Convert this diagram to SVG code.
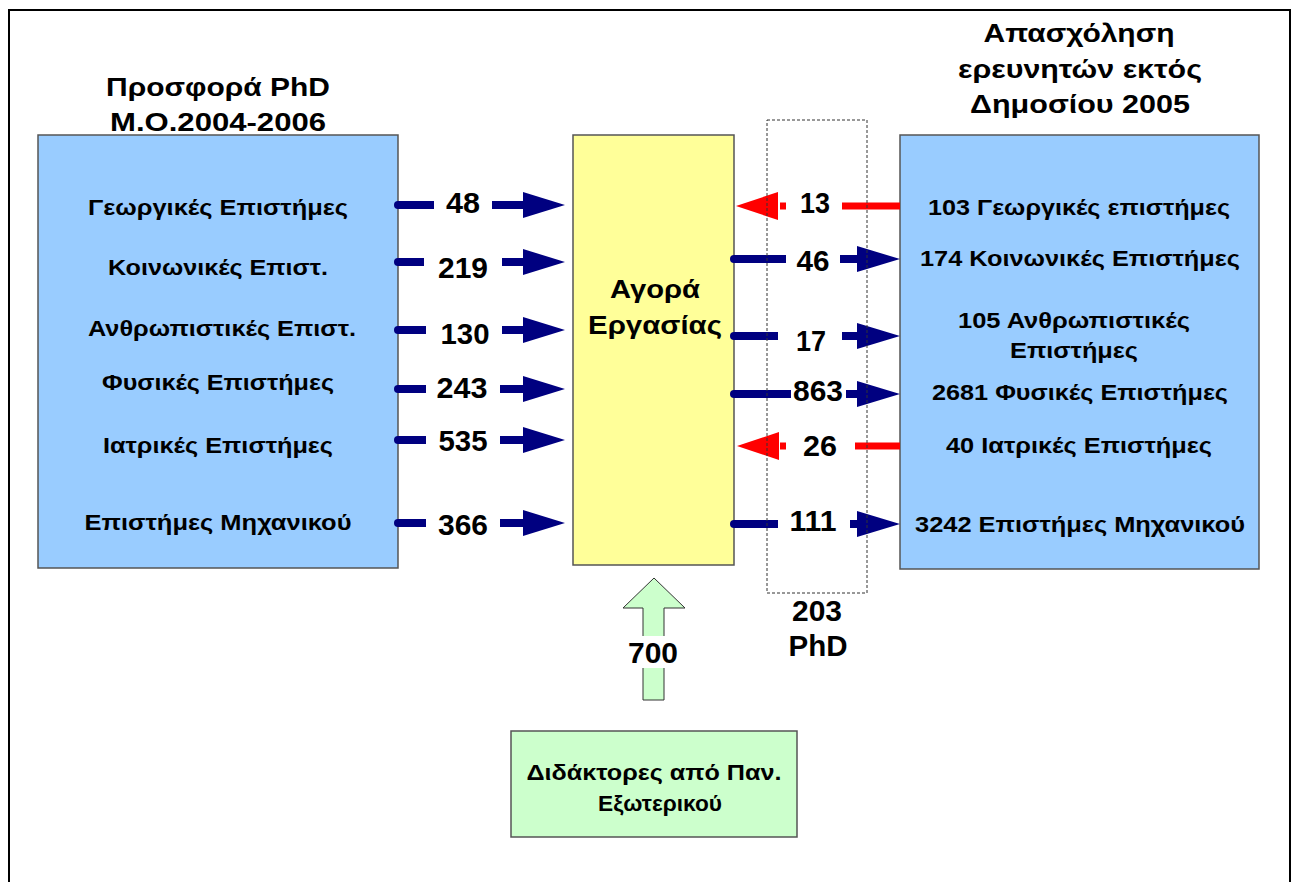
<svg xmlns="http://www.w3.org/2000/svg" width="1292" height="882" viewBox="0 0 1292 882">
<defs>
<style>
text{font-family:"Liberation Sans",Arial,sans-serif;font-weight:bold;fill:#000;text-anchor:middle}
.t{font-size:26px}
.it{font-size:22px}
.num{font-size:29px}
.box{stroke:#555;stroke-width:1.5}
.nav{stroke:#000080;stroke-width:8;stroke-linecap:round;fill:none}
.red{stroke:#FF0000;stroke-width:7;fill:none}
.hn{fill:#000080}
.hr{fill:#FF0000}
.lb{fill:#fff}
</style>
</defs>
<rect x="0" y="0" width="1292" height="882" fill="#fff"/>
<rect x="9" y="10" width="1281" height="890" fill="none" stroke="#000" stroke-width="2"/>

<g id="title-left">
<text class="t" x="218" y="96" textLength="224" lengthAdjust="spacingAndGlyphs">Προσφορά PhD</text>
<text class="t" x="218" y="131" textLength="216" lengthAdjust="spacingAndGlyphs">Μ.Ο.2004-2006</text>
</g>
<g id="title-right">
<text class="t" x="1079" y="42" textLength="191" lengthAdjust="spacingAndGlyphs">Απασχόληση</text>
<text class="t" x="1080" y="78" textLength="244" lengthAdjust="spacingAndGlyphs">ερευνητών εκτός</text>
<text class="t" x="1080" y="113" textLength="220" lengthAdjust="spacingAndGlyphs">Δημοσίου 2005</text>
</g>

<g id="supply">
<rect class="box" x="38" y="135" width="360" height="433" fill="#99CCFF"/>
<text class="it" x="218" y="215" textLength="260" lengthAdjust="spacingAndGlyphs">Γεωργικές Επιστήμες</text>
<text class="it" x="218" y="275" textLength="220" lengthAdjust="spacingAndGlyphs">Κοινωνικές Επιστ.</text>
<text class="it" x="222" y="336" textLength="268" lengthAdjust="spacingAndGlyphs">Ανθρωπιστικές Επιστ.</text>
<text class="it" x="218" y="390" textLength="232" lengthAdjust="spacingAndGlyphs">Φυσικές Επιστήμες</text>
<text class="it" x="218" y="453" textLength="230" lengthAdjust="spacingAndGlyphs">Ιατρικές Επιστήμες</text>
<text class="it" x="218" y="530" textLength="267" lengthAdjust="spacingAndGlyphs">Επιστήμες Μηχανικού</text>
</g>

<g id="market">
<rect class="box" x="573" y="135" width="161" height="430" fill="#FFFF99"/>
<text class="t" x="655" y="298" textLength="90" lengthAdjust="spacingAndGlyphs">Αγορά</text>
<text class="t" x="655" y="334" textLength="134" lengthAdjust="spacingAndGlyphs">Εργασίας</text>
</g>

<g id="employment">
<rect class="box" x="900" y="135" width="359" height="434" fill="#99CCFF"/>
<text class="it" x="1079" y="215" textLength="302" lengthAdjust="spacingAndGlyphs">103 Γεωργικές επιστήμες</text>
<text class="it" x="1080" y="266" textLength="320" lengthAdjust="spacingAndGlyphs">174 Κοινωνικές Επιστήμες</text>
<text class="it" x="1074" y="328" textLength="232" lengthAdjust="spacingAndGlyphs">105 Ανθρωπιστικές</text>
<text class="it" x="1074" y="358" textLength="128" lengthAdjust="spacingAndGlyphs">Επιστήμες</text>
<text class="it" x="1080" y="400" textLength="296" lengthAdjust="spacingAndGlyphs">2681 Φυσικές Επιστήμες</text>
<text class="it" x="1079" y="453" textLength="266" lengthAdjust="spacingAndGlyphs">40 Ιατρικές Επιστήμες</text>
<text class="it" x="1080" y="532" textLength="330" lengthAdjust="spacingAndGlyphs">3242 Επιστήμες Μηχανικού</text>
</g>

<g id="foreign">
<rect class="box" x="511" y="731" width="286" height="106" fill="#CCFFCC"/>
<text class="it" x="654" y="780" textLength="255" lengthAdjust="spacingAndGlyphs">Διδάκτορες από Παν.</text>
<text class="it" x="660" y="811" textLength="124" lengthAdjust="spacingAndGlyphs">Εξωτερικού</text>
</g>

<g id="connectors">
<g>
<line class="nav" x1="398" y1="205" x2="526" y2="205"/><polygon class="hn" points="523,192 565,205 523,218"/>
<rect class="lb" x="434" y="190" width="58" height="28"/><text class="num" x="463" y="213" textLength="34" lengthAdjust="spacingAndGlyphs">48</text>
</g>
<g>
<line class="nav" x1="398" y1="262" x2="526" y2="262"/><polygon class="hn" points="523,249 565,262 523,275"/>
<rect class="lb" x="424" y="248" width="78" height="32"/><text class="num" x="463" y="278" textLength="50" lengthAdjust="spacingAndGlyphs">219</text>
</g>
<g>
<line class="nav" x1="398" y1="330" x2="526" y2="330"/><polygon class="hn" points="523,317 565,330 523,343"/>
<rect class="lb" x="426" y="316" width="76" height="32"/><text class="num" x="465" y="344" textLength="49" lengthAdjust="spacingAndGlyphs">130</text>
</g>
<g>
<line class="nav" x1="398" y1="389" x2="526" y2="389"/><polygon class="hn" points="523,376 565,389 523,402"/>
<rect class="lb" x="426" y="374" width="74" height="30"/><text class="num" x="462" y="398" textLength="51" lengthAdjust="spacingAndGlyphs">243</text>
</g>
<g>
<line class="nav" x1="398" y1="440" x2="526" y2="440"/><polygon class="hn" points="523,427 565,440 523,453"/>
<rect class="lb" x="426" y="426" width="74" height="30"/><text class="num" x="463" y="451" textLength="49" lengthAdjust="spacingAndGlyphs">535</text>
</g>
<g>
<line class="nav" x1="398" y1="523" x2="526" y2="523"/><polygon class="hn" points="523,510 565,523 523,536"/>
<rect class="lb" x="426" y="509" width="74" height="32"/><text class="num" x="463" y="535" textLength="50" lengthAdjust="spacingAndGlyphs">366</text>
</g>
<g>
<line class="red" x1="780" y1="206" x2="900" y2="206"/><polygon class="hr" points="778,192 736,206 778,220"/>
<rect class="lb" x="786" y="190" width="56" height="30"/><text class="num" x="815" y="213" textLength="30" lengthAdjust="spacingAndGlyphs">13</text>
</g>
<g>
<line class="nav" x1="734" y1="259" x2="860" y2="259"/><polygon class="hn" points="857,246 900,259 857,272"/>
<rect class="lb" x="786" y="244" width="54" height="30"/><text class="num" x="813" y="271" textLength="33" lengthAdjust="spacingAndGlyphs">46</text>
</g>
<g>
<line class="nav" x1="734" y1="336" x2="860" y2="336"/><polygon class="hn" points="857,323 900,336 857,349"/>
<rect class="lb" x="778" y="322" width="64" height="32"/><text class="num" x="811" y="351" textLength="30" lengthAdjust="spacingAndGlyphs">17</text>
</g>
<g>
<line class="nav" x1="734" y1="394" x2="860" y2="394"/><polygon class="hn" points="857,381 900,394 857,407"/>
<rect class="lb" x="791" y="380" width="55" height="28"/><text class="num" x="818" y="401" textLength="50" lengthAdjust="spacingAndGlyphs">863</text>
</g>
<g>
<line class="red" x1="780" y1="446" x2="900" y2="446"/><polygon class="hr" points="779,432 737,446 779,460"/>
<rect class="lb" x="786" y="430" width="69" height="32"/><text class="num" x="820" y="456" textLength="34" lengthAdjust="spacingAndGlyphs">26</text>
</g>
<g>
<line class="nav" x1="734" y1="524" x2="860" y2="524"/><polygon class="hn" points="857,511 900,524 857,537"/>
<rect class="lb" x="778" y="510" width="72" height="30"/><text class="num" x="813" y="531" textLength="47" lengthAdjust="spacingAndGlyphs">111</text>
</g>
<g>
<polygon points="654,578 685,608 664,608 664,700 643,700 643,608 623,608" fill="#CCFFCC" stroke="#333" stroke-width="1"/>
<rect class="lb" x="625" y="636" width="58" height="32"/><text class="num" x="653" y="663" textLength="50" lengthAdjust="spacingAndGlyphs">700</text>
</g>
</g>

<g id="phd-box">
<rect x="767" y="120" width="100" height="473" fill="none" stroke="#333" stroke-width="1" stroke-dasharray="3,2"/>
<text class="num" x="817" y="621" textLength="50" lengthAdjust="spacingAndGlyphs">203</text>
<text class="num" x="818" y="656" textLength="59" lengthAdjust="spacingAndGlyphs">PhD</text>
</g>
</svg>
